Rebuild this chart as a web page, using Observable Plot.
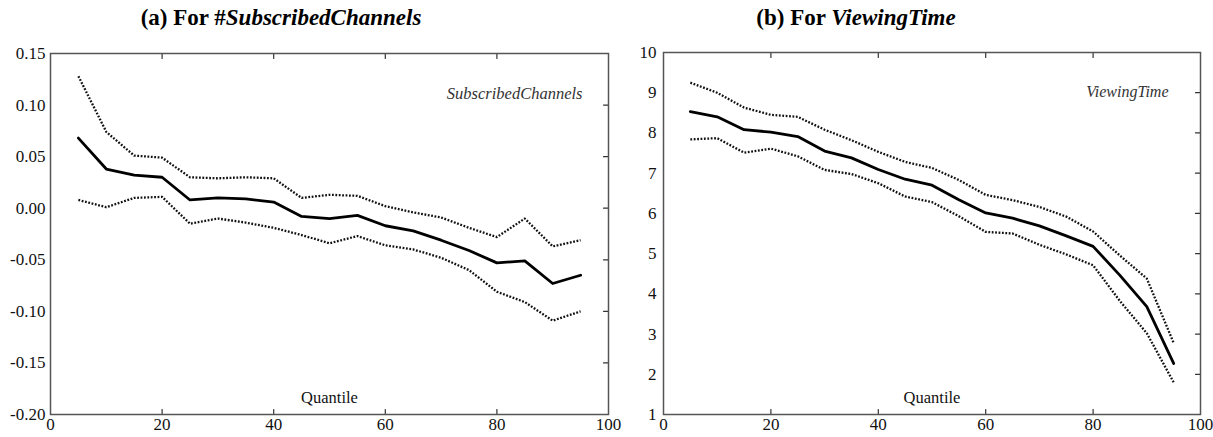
<!DOCTYPE html>
<html><head><meta charset="utf-8">
<script src="https://cdn.jsdelivr.net/npm/d3@7"></script>
<script src="https://cdn.jsdelivr.net/npm/@observablehq/plot@0.6"></script>
<style>
body{margin:0;background:#fff;}
#wrap{position:relative;width:1213px;height:437px;overflow:hidden;font-family:'Liberation Serif';background:#fff;}
.title{position:absolute;top:4px;font-family:'Liberation Serif';font-weight:bold;font-size:23px;transform:translateX(-50%);white-space:nowrap;color:#000;line-height:28px;}
.panel{position:absolute;top:40px;}
.panel svg{overflow:visible;}
</style>
</head><body>
<div id="wrap">
  <div class="title" style="left:281px">(a) For #<i>SubscribedChannels</i></div>
  <div class="title" style="left:856px">(b) For <i>ViewingTime</i></div>
  <div class="panel" id="pa" style="left:0px"></div>
  <div class="panel" id="pb" style="left:612px"></div>
</div>
<script>
const quantiles = [5,10,15,20,25,30,35,40,45,50,55,60,65,70,75,80,85,90,95];
const subMid = [0.068,0.038,0.032,0.030,0.008,0.010,0.009,0.006,-0.008,-0.010,-0.007,-0.017,-0.022,-0.031,-0.041,-0.053,-0.051,-0.073,-0.065];
const subUp  = [0.128,0.074,0.051,0.049,0.030,0.029,0.030,0.029,0.010,0.013,0.012,0.002,-0.004,-0.009,-0.019,-0.028,-0.010,-0.037,-0.031];
const subLo  = [0.008,0.001,0.010,0.011,-0.015,-0.010,-0.014,-0.019,-0.026,-0.034,-0.027,-0.036,-0.040,-0.048,-0.060,-0.081,-0.091,-0.109,-0.100];
const viewMid = [8.53,8.40,8.08,8.02,7.91,7.55,7.38,7.09,6.85,6.70,6.34,6.01,5.88,5.69,5.44,5.18,4.46,3.68,2.27];
const viewUp  = [9.25,9.00,8.63,8.45,8.40,8.08,7.82,7.53,7.28,7.13,6.83,6.46,6.33,6.16,5.92,5.55,4.95,4.38,2.78];
const viewLo  = [7.84,7.87,7.51,7.61,7.42,7.08,6.98,6.75,6.42,6.28,5.93,5.54,5.50,5.22,4.98,4.71,3.82,3.02,1.80];
const xTicks = [0,20,40,60,80,100];
const xInner = [20,40,60,80];
const subTicks = [0.15,0.10,0.05,0.00,-0.05,-0.10,-0.15,-0.20];
const subInner = [0.10,0.05,0.00,-0.05,-0.10,-0.15];
const viewTicks = [1,2,3,4,5,6,7,8,9,10];
const viewInner = [2,3,4,5,6,7,8,9];

const FONT = "Liberation Serif";
const tickShape = {draw(ctx, l){ ctx.moveTo(0,0); ctx.lineTo(0,-l); }};
const rows = arr => quantiles.map((q,i)=>({q, v: arr[i]}));

function panel({width, marginLeft, marginRight, marginTop, yDomain, yTicks, yInner, fmt, yPad, mid, up, lo, label, labelDx, labelDy, labelSize}) {
  const inner = {stroke:"#333", strokeWidth:1.2, length:5, anchor:"start", shape:tickShape};
  const dotted = {x:"q", y:"v", stroke:"#111", strokeWidth:2.3, strokeDasharray:"1.8,1.6", strokeLinecap:"butt", strokeLinejoin:"miter"};
  return Plot.plot({
    width, height: 397,
    marginLeft, marginRight, marginTop, marginBottom: 23,
    x: {domain:[0,100]},
    y: {domain: yDomain},
    style: {fontFamily: FONT, fontSize:"17px", color:"#111", background:"transparent"},
    marks: [
      Plot.axisX(xTicks, {tickSize:0, tickPadding:3, label:null, fontSize:17, fontFamily: FONT}),
      Plot.axisY(yTicks, {tickSize:0, tickPadding:yPad, label:null, tickFormat: fmt, fontSize:17, fontFamily: FONT}),
      Plot.vectorX(xInner, {x: d=>d, frameAnchor:"bottom", rotate:0, ...inner}),
      Plot.vectorX(xInner, {x: d=>d, frameAnchor:"top", rotate:180, ...inner}),
      Plot.vectorY(yInner, {y: d=>d, frameAnchor:"right", rotate:-90, ...inner}),
      Plot.line(rows(up), dotted),
      Plot.line(rows(lo), dotted),
      Plot.line(rows(mid), {x:"q", y:"v", stroke:"#000", strokeWidth:2.8}),
      Plot.text(["Quantile"], {frameAnchor:"bottom", dy:-12, fontSize:16.5, fill:"#111", fontFamily: FONT}),
      Plot.text([label], {frameAnchor:"top-right", textAnchor:"end", dx:labelDx, dy:labelDy, fontSize:labelSize, fontStyle:"italic", fill:"#333", fontFamily: FONT}),
      Plot.frame({stroke:"#555", strokeWidth:1.5})
    ]
  });
}

document.getElementById("pa").append(panel({
  width:612, marginLeft:50, marginRight:4, marginTop:13,
  yDomain:[-0.2,0.15], yTicks: subTicks, yInner: subInner, fmt: d => d.toFixed(2), yPad:5,
  mid: subMid, up: subUp, lo: subLo, label:"SubscribedChannels", labelDx:-26, labelDy:34, labelSize:16.5
}));
document.getElementById("pb").append(panel({
  width:601, marginLeft:51, marginRight:13, marginTop:12,
  yDomain:[1,10], yTicks: viewTicks, yInner: viewInner, fmt: d => String(d), yPad:7,
  mid: viewMid, up: viewUp, lo: viewLo, label:"ViewingTime", labelDx:-32, labelDy:33, labelSize:16
}));
</script>
</body></html>
